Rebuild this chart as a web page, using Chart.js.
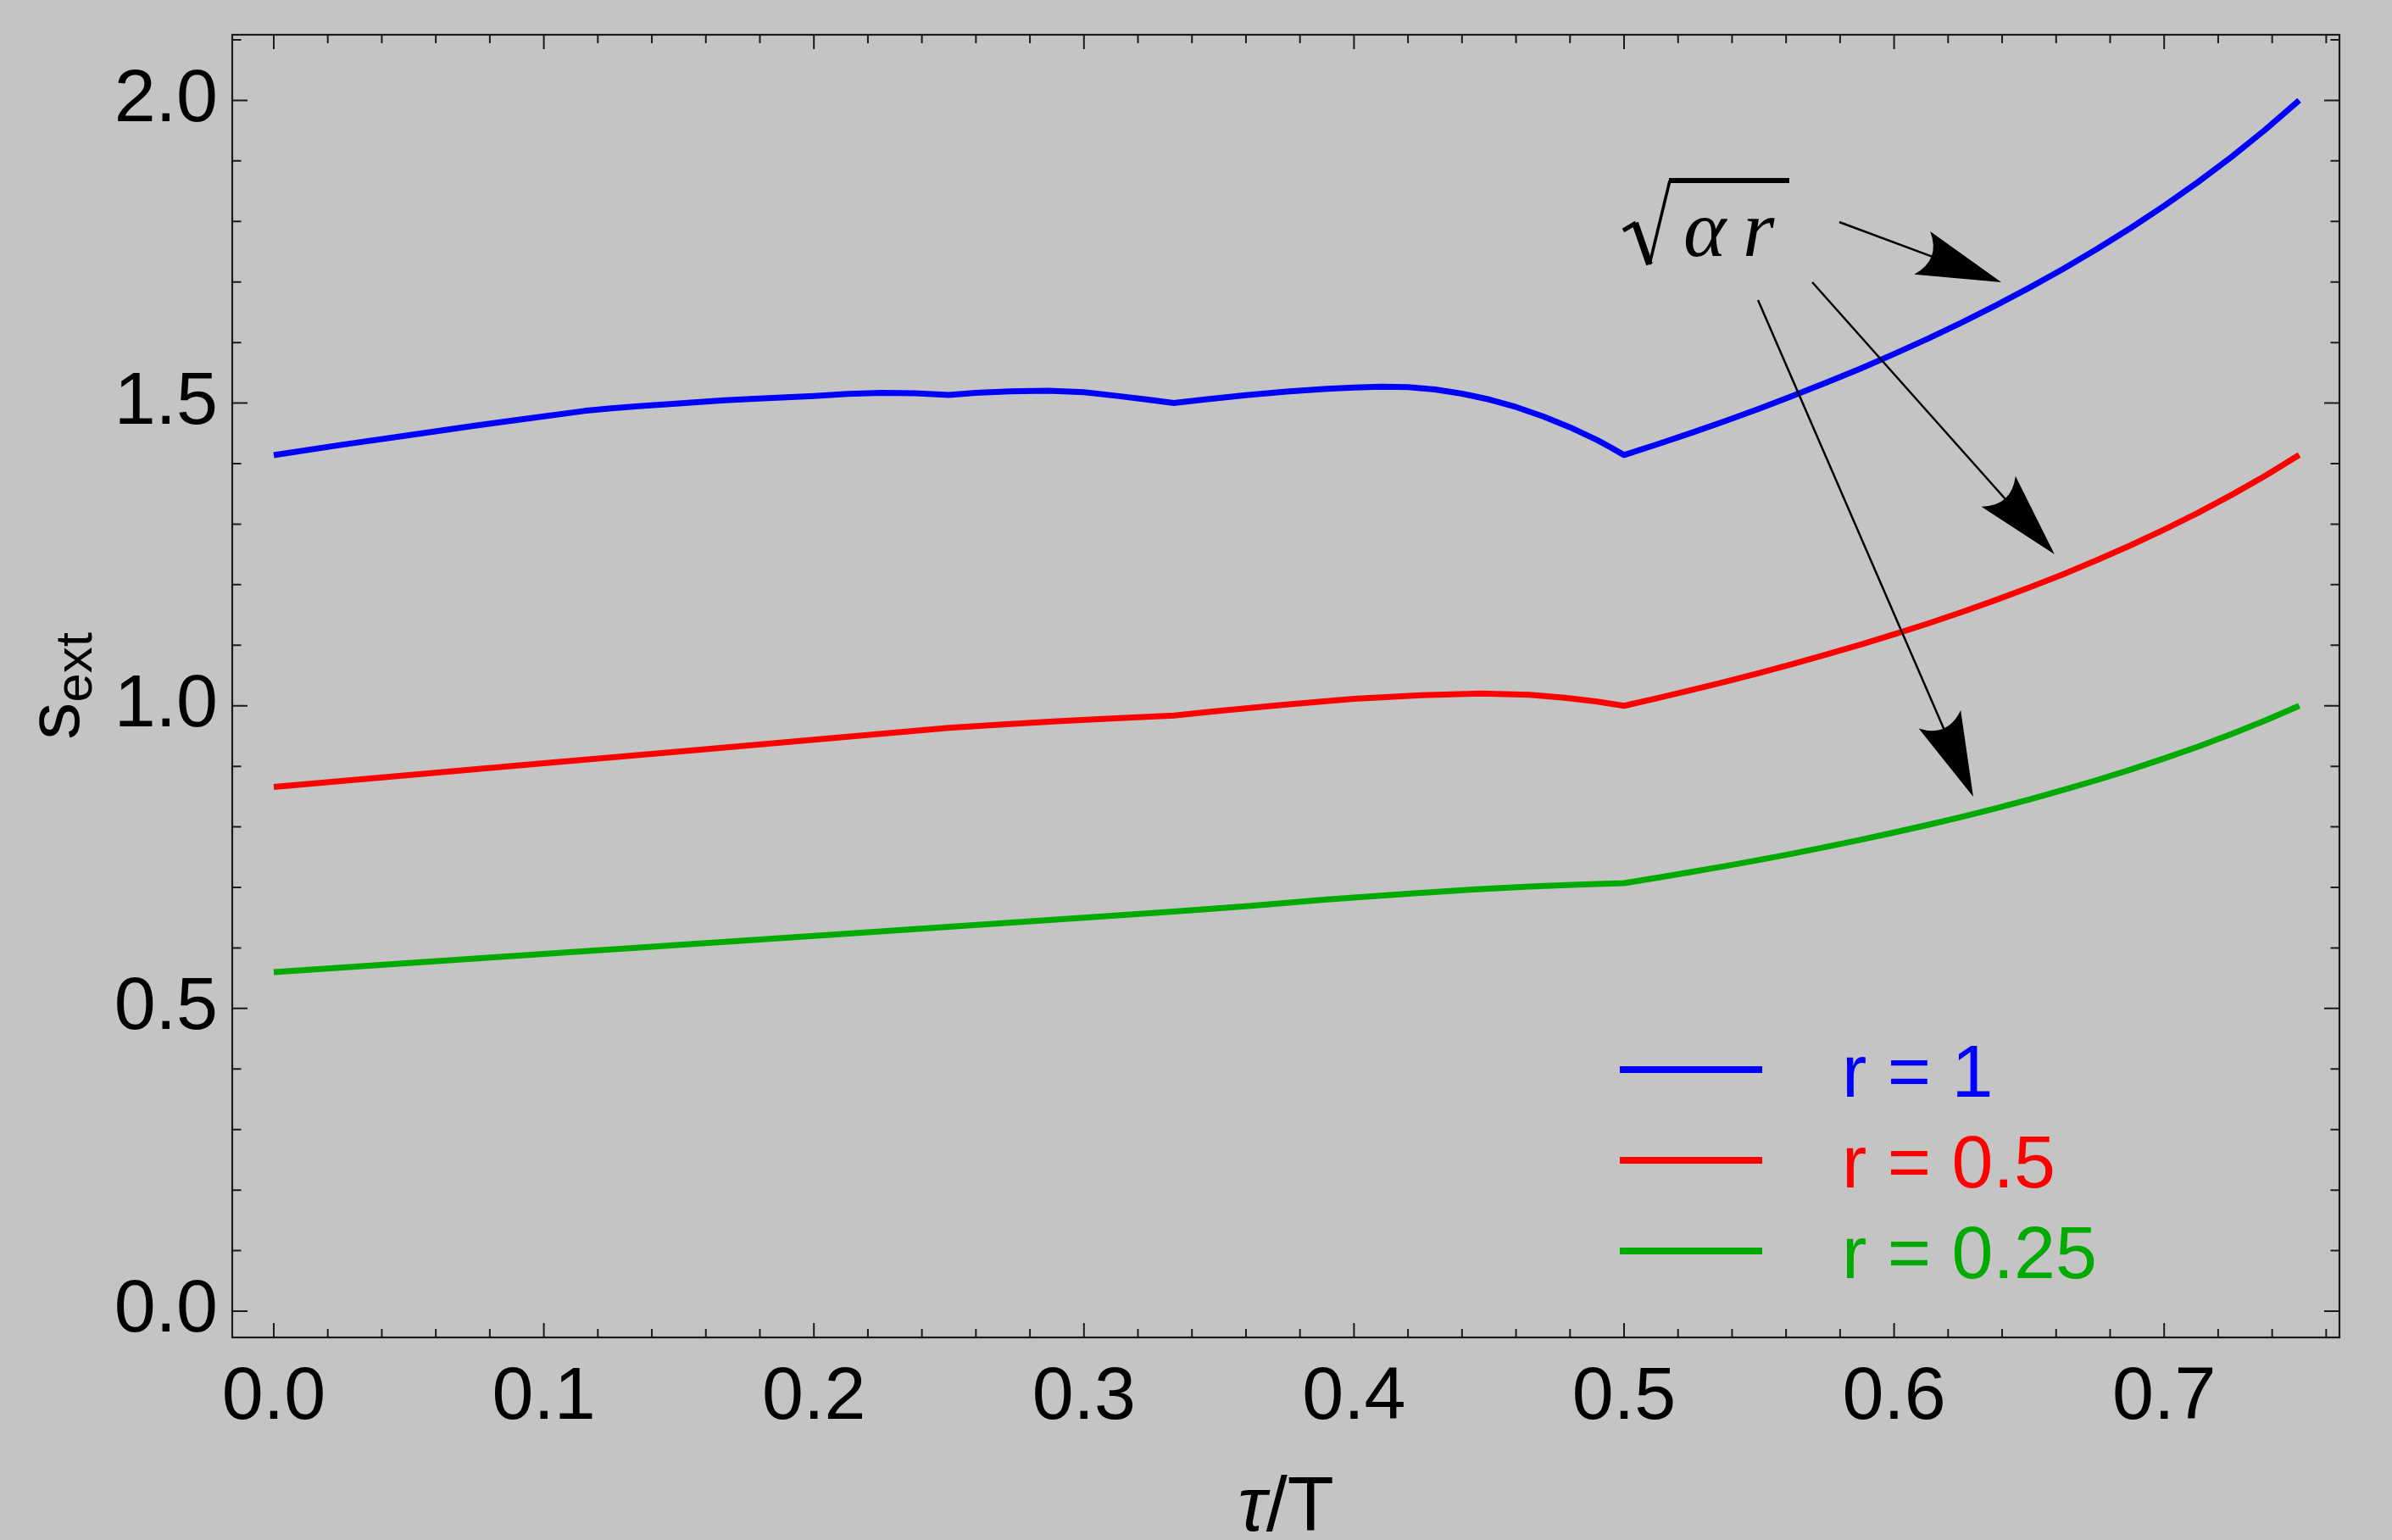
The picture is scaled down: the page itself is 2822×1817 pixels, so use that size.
<!DOCTYPE html>
<html>
<head>
<meta charset="utf-8">
<script src="https://cdn.jsdelivr.net/npm/chart.js@4/dist/chart.umd.min.js"></script>
<style>
html,body{margin:0;padding:0;background:#c3c4c3;}
canvas{display:block;}
</style>
</head>
<body>
<canvas id="c" width="2822" height="1817" style="width:2822px;height:1817px"></canvas>
<script>
// ---------- data ----------
const seriesLabels = ['r = 1', 'r = 0.5', 'r = 0.25'];
const seriesColors = ['#0000ff', '#ff0000', '#00aa00'];

// tau/T samples after the kink at 0.5 (shared by all three curves)
const tLate = [0.5125, 0.525, 0.5375, 0.55, 0.5625, 0.575, 0.5875, 0.6, 0.6125, 0.625, 0.6375, 0.65,
  0.6625, 0.675, 0.6875, 0.7, 0.7125, 0.725, 0.7375, 0.75];

const tBlue = [0, 0.025, 0.05, 0.075, 0.1, 0.115, 0.125, 0.135, 0.15, 0.167, 0.183, 0.2, 0.2125, 0.225, 0.2375, 0.25,
  0.26, 0.2725, 0.2866, 0.3, 0.313, 0.323, 0.3333, 0.345, 0.36, 0.375, 0.39, 0.4, 0.41, 0.42, 0.43, 0.44, 0.45,
  0.46, 0.47, 0.48, 0.49, 0.495, 0.5].concat(tLate);
const sBlue = [1.414, 1.431, 1.447, 1.463, 1.478, 1.487, 1.4915, 1.495, 1.4995, 1.5045, 1.508, 1.5115, 1.5150, 1.5168, 1.5163, 1.5135,
  1.517, 1.5195, 1.5205, 1.518, 1.5115, 1.506, 1.500, 1.506, 1.513, 1.519, 1.5235, 1.5255, 1.527, 1.5262, 1.5225, 1.5155, 1.506,
  1.4935, 1.478, 1.460, 1.439, 1.427, 1.4142,
  1.4322, 1.4510, 1.4704, 1.4907, 1.5119, 1.5339, 1.5569, 1.5811, 1.6063, 1.6330, 1.6609, 1.6903,
  1.7213, 1.7541, 1.7889, 1.8257, 1.8650, 1.9069, 1.9518, 2.000];

const tRed = [0, 0.05, 0.1, 0.15, 0.2, 0.25, 0.27, 0.29, 0.31, 0.3333, 0.35, 0.375, 0.4, 0.425, 0.447, 0.465,
  0.478, 0.49, 0.5].concat(tLate);
const sRed = [0.866, 0.8855, 0.905, 0.9245, 0.944, 0.9637, 0.969, 0.9745, 0.979, 0.984, 0.9915, 1.002, 1.0115, 1.0175, 1.0202, 1.0182,
  1.0133, 1.0069, 1.000,
  1.0127, 1.0260, 1.0397, 1.0541, 1.0690, 1.0847, 1.1009, 1.1180, 1.1358, 1.1547, 1.1744, 1.1952,
  1.2171, 1.2403, 1.2649, 1.2910, 1.3187, 1.3484, 1.3801, 1.4142];

const tGreen = [0, 0.1, 0.2, 0.3, 0.3333, 0.36, 0.39, 0.42, 0.444, 0.465, 0.485, 0.5].concat(tLate);
const sGreen = [0.560, 0.590, 0.620, 0.650, 0.660, 0.669, 0.680, 0.6895, 0.6965, 0.7015, 0.705, 0.7071,
  0.7161, 0.7255, 0.7352, 0.7454, 0.7559, 0.7670, 0.7785, 0.7906, 0.8032, 0.8165, 0.8305, 0.8452,
  0.8607, 0.8771, 0.8944, 0.9129, 0.9325, 0.9535, 0.9759, 1.000];

const xTickValues = [0, 0.1, 0.2, 0.3, 0.4, 0.5, 0.6, 0.7];
const yTickValues = [0, 0.5, 1, 1.5, 2];
const xRange = [-0.01538, 0.76491];
const yRange = [-0.0434, 2.1084];

// annotation: arrows from the label to the curves (data coordinates)
const arrowStarts = [[0.5797, 1.799], [0.5697, 1.6996], [0.5496, 1.6702]];
const arrowTips   = [[0.6397, 1.6996], [0.6594, 1.2502], [0.6293, 0.8498]];
const labelAnchor = [0.5, 1.75];

// ---------- drawing ----------
const BG = '#c3c4c3';
const FONT = '"Liberation Sans", Arial, sans-serif';

function pts(t, s) { return t.map((v, i) => ({x: v, y: s[i]})); }

const decor = {
  id: 'decor',
  beforeDraw(chart) {
    const ctx = chart.ctx;
    ctx.save();
    ctx.fillStyle = BG;
    ctx.fillRect(0, 0, chart.width, chart.height);
    ctx.restore();
  },
  afterDatasetsDraw(chart) {
    const ctx = chart.ctx;
    const {x, y} = chart.scales;
    const ca = chart.chartArea;
    ctx.save();
    // arrows
    ctx.strokeStyle = '#000';
    ctx.fillStyle = '#000';
    for (let i = 0; i < arrowStarts.length; i++) {
      const x0 = x.getPixelForValue(arrowStarts[i][0]), y0 = y.getPixelForValue(arrowStarts[i][1]);
      const x1 = x.getPixelForValue(arrowTips[i][0]), y1 = y.getPixelForValue(arrowTips[i][1]);
      const dx = x1 - x0, dy = y1 - y0, len = Math.hypot(dx, dy);
      const ux = dx / len, uy = dy / len, px = -uy, py = ux;
      const L = 99.5, W = 27, N = 86;
      ctx.beginPath();
      ctx.lineWidth = 2.5;
      ctx.moveTo(x0, y0);
      ctx.lineTo(x1 - ux * N, y1 - uy * N);
      ctx.stroke();
      ctx.beginPath();
      ctx.moveTo(x1, y1);
      ctx.lineTo(x1 - ux * L + px * W, y1 - uy * L + py * W);
      ctx.quadraticCurveTo(x1 - ux * 76, y1 - uy * 76, x1 - ux * L - px * W, y1 - uy * L - py * W);
      ctx.closePath();
      ctx.fill();
    }
    // sqrt(alpha r) label
    const ax = x.getPixelForValue(labelAnchor[0]), ay = y.getPixelForValue(labelAnchor[1]);
    ctx.lineCap = 'butt';
    ctx.lineJoin = 'miter';
    const seg = (a, b, c, d, w) => { ctx.beginPath(); ctx.lineWidth = w; ctx.moveTo(ax + a, ay + b); ctx.lineTo(ax + c, ay + d); ctx.stroke(); };
    seg(-1, -25, 14, -34, 5);
    seg(13, -34, 30, 15, 8);
    seg(30, 15, 54, -84, 3.5);
    ctx.beginPath(); ctx.lineWidth = 6; ctx.moveTo(ax + 53, ay - 84); ctx.lineTo(ax + 195, ay - 84); ctx.stroke();
    ctx.font = 'italic 96px "Liberation Serif", "DejaVu Serif", serif';
    ctx.textBaseline = 'alphabetic';
    ctx.textAlign = 'left';
    ctx.fillText('\u03B1', ax + 70, ay + 5);
    ctx.fillText('r', ax + 140, ay + 5);

    // legend
    const lx0 = ca.left + 1637, lx1 = ca.left + 1805, ly0 = ca.top + 1221, dyL = 107;
    ctx.font = '88px ' + FONT;
    chart.data.datasets.forEach((ds, i) => {
      const yy = ly0 + i * dyL;
      ctx.beginPath();
      ctx.strokeStyle = ds.borderColor;
      ctx.lineWidth = 8;
      ctx.moveTo(lx0, yy);
      ctx.lineTo(lx1, yy);
      ctx.stroke();
      ctx.fillStyle = ds.borderColor;
      ctx.fillText(ds.label, ca.left + 1899, yy + 32);
    });
    ctx.restore();
  },
  afterDraw(chart) {
    const ctx = chart.ctx;
    const {x, y} = chart.scales;
    const {left, right, top, bottom} = chart.chartArea;
    ctx.save();
    ctx.strokeStyle = '#1a1a1a';
    ctx.lineWidth = 2;
    ctx.beginPath();
    for (let i = 0; i <= 40; i++) {
      const v = Math.round(i * 2) / 100;
      if (v > x.max) break;
      const p = x.getPixelForValue(v);
      const Lt = (i % 5 === 0) ? 17 : 10;
      ctx.moveTo(p, bottom); ctx.lineTo(p, bottom - Lt);
      ctx.moveTo(p, top); ctx.lineTo(p, top + Lt);
    }
    for (let i = 0; i <= 25; i++) {
      const v = i / 10;
      if (v > y.max) break;
      const p = y.getPixelForValue(v);
      const Lt = (i % 5 === 0) ? 18 : 10.5;
      ctx.moveTo(left, p); ctx.lineTo(left + Lt, p);
      ctx.moveTo(right, p); ctx.lineTo(right - Lt, p);
    }
    ctx.stroke();
    ctx.lineWidth = 2.2;
    ctx.strokeRect(left, top, right - left, bottom - top);

    // x title: tau/T
    ctx.fillStyle = '#000';
    ctx.textBaseline = 'alphabetic';
    ctx.textAlign = 'left';
    const f1 = 'italic 90px ' + FONT, f2 = '90px ' + FONT;
    ctx.font = f1; const w1 = ctx.measureText('\u03C4').width;
    ctx.font = f2; const w2 = ctx.measureText('/T').width;
    const cx = (left + right) / 2;
    const sx = cx - (w1 + w2) / 2;
    ctx.font = f1; ctx.fillText('\u03C4', sx, 1806);
    ctx.font = f2; ctx.fillText('/T', sx + w1, 1806);

    // y title: s_ext
    ctx.save();
    const cy = (top + bottom) / 2;
    ctx.font = '88px ' + FONT; const ws = ctx.measureText('s').width;
    ctx.font = '62px ' + FONT; const we = ctx.measureText('ext').width;
    const total = ws + we;
    ctx.translate(93, cy + total / 2);
    ctx.rotate(-Math.PI / 2);
    ctx.font = '88px ' + FONT; ctx.fillText('s', 0, 0);
    ctx.font = '62px ' + FONT; ctx.fillText('ext', ws, 15);
    ctx.restore();
    ctx.restore();
  }
};

const chart = new Chart(document.getElementById('c'), {
  type: 'line',
  data: {
    datasets: [
      {label: seriesLabels[0], data: pts(tBlue, sBlue), borderColor: seriesColors[0]},
      {label: seriesLabels[1], data: pts(tRed, sRed), borderColor: seriesColors[1]},
      {label: seriesLabels[2], data: pts(tGreen, sGreen), borderColor: seriesColors[2]}
    ].map(d => Object.assign(d, {borderWidth: 7, pointRadius: 0, tension: 0, fill: false, borderJoinStyle: 'round'}))
  },
  options: {
    responsive: false,
    devicePixelRatio: 1,
    animation: false,
    layout: {padding: {top: 41, right: 62, left: 0, bottom: 0}},
    plugins: {legend: {display: false}, tooltip: {enabled: false}},
    scales: {
      x: {
        type: 'linear', position: 'bottom', min: xRange[0], max: xRange[1],
        grid: {display: false, drawTicks: false}, border: {display: false},
        afterBuildTicks: s => { s.ticks = xTickValues.map(v => ({value: v})); },
        afterFit: s => { s.height = 239; s.paddingLeft = 0; s.paddingRight = 0; },
        ticks: {font: {family: FONT, size: 88}, color: '#000', padding: 19, maxRotation: 0, autoSkip: false,
          callback: v => Number(v).toFixed(1)}
      },
      y: {
        type: 'linear', position: 'left', min: yRange[0], max: yRange[1],
        grid: {display: false, drawTicks: false}, border: {display: false},
        afterBuildTicks: s => { s.ticks = yTickValues.map(v => ({value: v})); },
        afterFit: s => { s.width = 274; s.paddingTop = 0; s.paddingBottom = 0; },
        ticks: {font: {family: FONT, size: 88}, color: '#000', padding: 17, autoSkip: false,
          callback: v => Number(v).toFixed(1)}
      }
    }
  },
  plugins: [decor]
});
</script>
</body>
</html>
